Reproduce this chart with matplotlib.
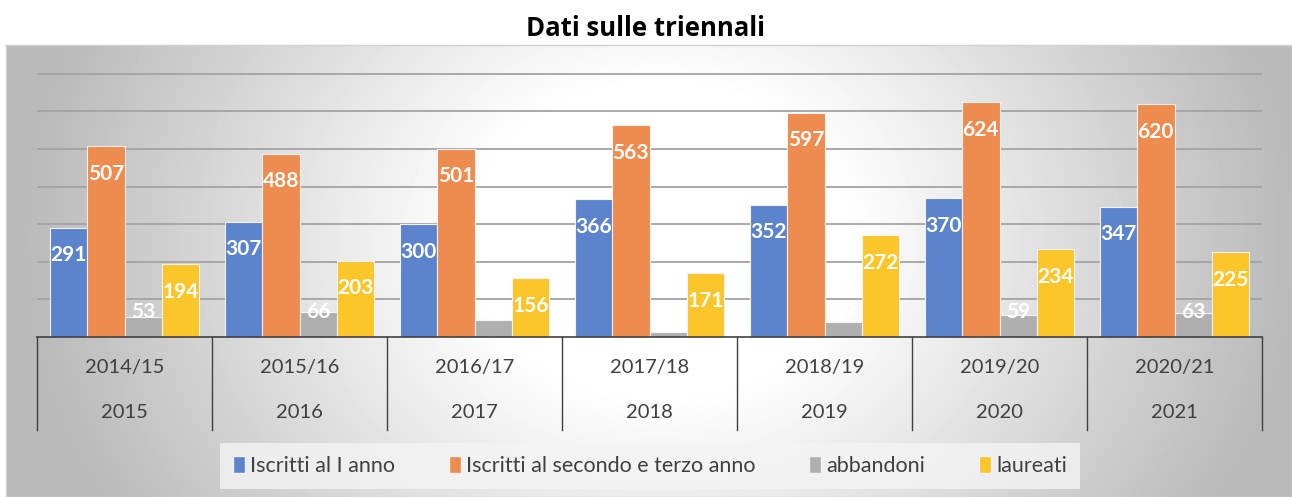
import numpy as np
import matplotlib
matplotlib.use("Agg")
from matplotlib import pyplot as plt
from matplotlib.patches import Patch

# data
anni_acc = ['2014/15', '2015/16', '2016/17', '2017/18', '2018/19', '2019/20', '2020/21']
anni = ['2015', '2016', '2017', '2018', '2019', '2020', '2021']
primo_anno = [291, 307, 300, 366, 352, 370, 347]
secondo_terzo = [507, 488, 501, 563, 597, 624, 620]
abbandoni = [53, 66, 46, 12, 39, 59, 63]
laureati = [194, 203, 156, 171, 272, 234, 225]

serie = [primo_anno, secondo_terzo, abbandoni, laureati]
nomi = ['Iscritti al I anno', 'Iscritti al secondo e terzo anno', 'abbandoni', 'laureati']
colori = ['#5B84CC', '#EE8B4E', '#AFAFAF', '#FCC52A']

plt.rcParams['font.family'] = ['Lato', 'DejaVu Sans']

W, H = 1292, 497
fig = plt.figure(figsize=(W / 100, H / 100), dpi=100)

# chart area background with radial-ish gradient
bg = fig.add_axes([6 / W, 0, (W - 6) / W, (H - 45) / H], zorder=0)
xx, yy = np.meshgrid(np.linspace(6, W, 400), np.linspace(45, H, 150))
d = np.sqrt(((xx - 660) / 620) ** 2 + ((yy - 240) / 520) ** 2)
val = 1 - 0.27 * np.clip((d - 0.3) / 0.72, 0, 1)
bg.imshow(val, cmap='gray', vmin=0, vmax=1, aspect='auto', extent=[0, 1, 0, 1])
bg.set_xticks([])
bg.set_yticks([])
for s in bg.spines.values():
    s.set_color('#d0d0d0')
    s.set_linewidth(1)

# main axes
top_px, base_px = 45, 337
ax = fig.add_axes([37 / W, 1 - base_px / H, (1262 - 37) / W, (base_px - top_px) / H], zorder=1)
ax.patch.set_alpha(0)
ppu = 0.376
ax.set_ylim(0, (base_px - top_px) / ppu)
ax.set_xlim(-0.5, len(anni) - 0.5)

x = np.arange(len(anni))
bw = 0.214
for i, (vals, col) in enumerate(zip(serie, colori)):
    pos = x + (i - 1.5) * bw
    ax.bar(pos, vals, width=bw, color=col, edgecolor='#f2f2f2', linewidth=0.8, zorder=3)
    for p, v in zip(pos, vals):
        ly = max(v - 74, 66)
        ax.text(p, ly, str(v), ha='center', va='center', color='white',
                fontsize=15, fontweight='bold', zorder=4)

for g in range(100, 800, 100):
    ax.axhline(g, color='#a3a3a3', linewidth=1.3, zorder=1)

ax.set_xticks([])
ax.set_yticks([])
for s in ax.spines.values():
    s.set_visible(False)

# category table below the axis
trans = ax.get_xaxis_transform()
ax.plot([-0.5, len(anni) - 0.5], [0, 0], color='#404040', lw=1.2, transform=trans, clip_on=False, zorder=5)
tab_bot = -(430 - base_px) / (base_px - top_px)
for b in np.arange(-0.5, len(anni), 1):
    ax.plot([b, b], [0, tab_bot], color='#404040', lw=1.0, transform=trans, clip_on=False)
r1 = -(367 - base_px) / (base_px - top_px)
r2 = -(412 - base_px) / (base_px - top_px)
for i in range(len(anni)):
    ax.text(i, r1, anni_acc[i], ha='center', va='center', fontsize=14.5, color='#404040', transform=trans)
    ax.text(i, r2, anni[i], ha='center', va='center', fontsize=14.5, color='#404040', transform=trans)

# title
fig.text(0.5, 1 - 28 / H, 'Dati sulle triennali', ha='center', va='center',
         fontsize=18.5, fontweight='bold', color='black', family=['Open Sans', 'DejaVu Sans'])

# legend
handles = [Patch(facecolor=c, edgecolor='#f2f2f2') for c in colori]
leg = fig.legend(handles, nomi, loc='center', bbox_to_anchor=(650 / W, 1 - 466 / H), ncol=4,
                 fontsize=15.5, frameon=True, fancybox=False, handlelength=0.55, handleheight=0.8,
                 handletextpad=0.25, columnspacing=2.5, borderpad=0.6, borderaxespad=0,
                 labelcolor='#404040')
leg.get_frame().set_facecolor('#f4f4f4')
leg.get_frame().set_alpha(0.8)
leg.get_frame().set_edgecolor('none')

plt.savefig('out.png', dpi=100)
